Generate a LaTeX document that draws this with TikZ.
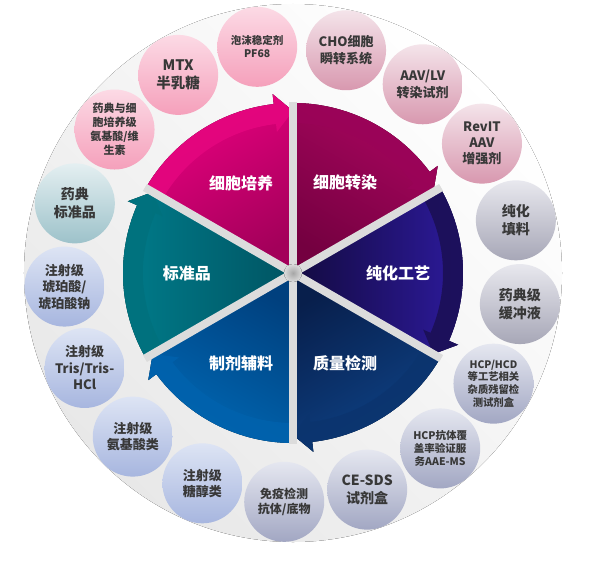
\documentclass[tikz,border=0pt]{standalone}
\usepackage{fontspec}
\setmainfont{Noto Sans CJK SC}
\usepackage{tikz}
\usetikzlibrary{calc}
\definecolor{ink}{HTML}{383838}
\definecolor{gapgray}{HTML}{DCDCDC}
% wheel colours
\definecolor{cultA}{HTML}{E8007F}
\definecolor{cultB}{HTML}{A3005A}
\definecolor{cultC}{HTML}{E5067F}
\definecolor{tranA}{HTML}{A8065E}
\definecolor{tranB}{HTML}{740040}
\definecolor{tranC}{HTML}{9A0358}
\definecolor{puriA}{HTML}{2E1BA0}
\definecolor{puriB}{HTML}{130A40}
\definecolor{puriC}{HTML}{1A0F52}
\definecolor{qualA}{HTML}{0E4387}
\definecolor{qualB}{HTML}{081F4C}
\definecolor{qualC}{HTML}{0B346E}
\definecolor{formA}{HTML}{0068B4}
\definecolor{formB}{HTML}{00407E}
\definecolor{formC}{HTML}{0062AD}
\definecolor{stanA}{HTML}{007D8C}
\definecolor{stanB}{HTML}{005462}
\definecolor{stanC}{HTML}{00717D}
% bubble colours
\definecolor{pinkL}{HTML}{FCDAE5}
\definecolor{pinkD}{HTML}{F5A0BB}
\definecolor{roseL}{HTML}{F4E4EA}
\definecolor{roseD}{HTML}{D898AF}
\definecolor{tealL}{HTML}{E4EFF1}
\definecolor{tealD}{HTML}{9DC2CA}
\definecolor{blueL}{HTML}{DDE4F4}
\definecolor{blueD}{HTML}{A7B6DF}
\definecolor{slateL}{HTML}{E5E7F0}
\definecolor{slateD}{HTML}{A2A7C3}
\definecolor{greyL}{HTML}{E8E8EE}
\definecolor{greyD}{HTML}{A7A7B7}
\newcommand\fsz[2]{\fontsize{#1}{#2}\selectfont\bfseries}
\tikzset{
  bubble/.style={circle, minimum size=80pt, inner sep=0pt, align=center, text=ink, shading angle=#1},
  pinkbub/.style={top color=pinkL, bottom color=pinkD},
  rosebub/.style={top color=roseL, bottom color=roseD},
  tealbub/.style={top color=tealL, bottom color=tealD},
  bluebub/.style={top color=blueL, bottom color=blueD},
  slatebub/.style={top color=slateL, bottom color=slateD},
  greybub/.style={top color=greyL, bottom color=greyD},
  seclabel/.style={text=white, font=\fsz{16}{19}},
  gap/.style={draw=gapgray, line width=8pt}
}

\begin{document}
\begin{tikzpicture}[x=1pt, y=1pt]
\fill[white] (-293,-287) rectangle (311,273);
\useasboundingbox (-293,-287) rectangle (311,273);
% background disc
\fill[top color=white, bottom color=black!9, shading angle=-45] (0,0) circle (269pt);

% six sectors, each with an arrow band on its rim
\foreach \a/\s/\ca/\cb/\cc in {150/30/cultA/cultB/cultC, 90/-30/tranA/tranB/tranC,
    30/-90/puriA/puriB/puriC, -30/-150/qualA/qualB/qualC,
    -90/-210/formA/formB/formC, -150/-270/stanA/stanB/stanC}{
  \fill[top color=\ca, bottom color=\cb, shading angle=\s]
    (0,0) -- (\a:170pt) arc[start angle=\a, end angle=\a-53.5, radius=170pt]
    -- ({\a-53.5}:180pt) -- ({\a-60}:162pt) -- cycle;
  \fill[\cc, opacity=0.85]
    (\a:150pt) arc[start angle=\a, end angle=\a-53.5, radius=150pt]
    -- ({\a-53.5}:142pt) -- ({\a-60}:162pt) -- ({\a-53.5}:180pt)
    -- ({\a-53.5}:170pt) arc[start angle=\a-53.5, end angle=\a, radius=170pt] -- cycle;
}
\foreach \g in {90,30,-30,-90,-150,150}
  \draw[gap] (0,0) -- (\g:171pt);
\fill[inner color=black!35, outer color=gapgray] (0,0) circle (9pt);

\node[seclabel] (cult) at (120:104pt) {细胞培养};
\node[seclabel] (tran) at (60:104pt) {细胞转染};
\node[seclabel] (puri) at (0:105pt) {纯化工艺};
\node[seclabel] (qual) at (-60:104pt) {质量检测};
\node[seclabel] (form) at (-120:104pt) {制剂辅料};
\node[seclabel] (stan) at (180:106pt) {标准品};

% product bubbles round the wheel
\node[bubble=9, pinkbub, font=\fsz{10.5}{13}] (pf) at (99:229pt) {泡沫稳定剂\\PF68};
\node[bubble=30.1, pinkbub, font=\fsz{14.5}{18}] (mtx) at (120.1:229pt) {MTX\\半乳糖};
\node[bubble=51.2, pinkbub, font=\fsz{11}{14}] (amino) at (141.2:229pt) {药典与细\\胞培养级\\氨基酸/维\\生素};
\node[bubble=72.3, tealbub, font=\fsz{14}{17.5}] (pharm) at (162.3:229pt) {药典\\标准品};
\node[bubble=93.4, bluebub, font=\fsz{13}{16.5}] (succ) at (183.4:229pt) {注射级\\琥珀酸/\\琥珀酸钠};
\node[bubble=114.5, bluebub, font=\fsz{13}{16.5}] (tris) at (204.5:229pt) {注射级\\Tris/Tris-\\HCl};
\node[bubble=135.6, bluebub, font=\fsz{13}{16.5}] (inj) at (225.6:229pt) {注射级\\氨基酸类};
\node[bubble=156.7, bluebub, font=\fsz{13}{16.5}] (sugar) at (246.7:229pt) {注射级\\糖醇类};
\node[bubble=177.8, slatebub, font=\fsz{12}{15}] (immu) at (267.8:229pt) {免疫检测\\抗体/底物};
\node[bubble=198.9, slatebub, font=\fsz{14}{17.5}] (cesds) at (288.9:229pt) {CE-SDS\\试剂盒};
\node[bubble=220, slatebub, font=\fsz{10.5}{13}] (aae) at (310:229pt) {HCP抗体覆\\盖率验证服\\务AAE-MS};
\node[bubble=241.1, slatebub, font=\fsz{10.3}{12.8}] (hcp) at (331.1:229pt) {HCP/HCD\\等工艺相关\\杂质残留检\\测试剂盒};
\node[bubble=262.2, greybub, font=\fsz{14}{17.5}] (buff) at (352.2:229pt) {药典级\\缓冲液};
\node[bubble=-76.7, greybub, font=\fsz{14}{17.5}] (resin) at (13.3:229pt) {纯化\\填料};
\node[bubble=-55.6, rosebub, font=\fsz{13}{16}] (revit) at (34.4:229pt) {RevIT\\AAV\\增强剂};
\node[bubble=-34.5, rosebub, font=\fsz{13}{16.5}] (aav) at (55.5:229pt) {AAV/LV\\转染试剂};
\node[bubble=-13.4, rosebub, font=\fsz{13}{16.5}] (cho) at (76.6:229pt) {CHO细胞\\瞬转系统};
\end{tikzpicture}
\end{document}
